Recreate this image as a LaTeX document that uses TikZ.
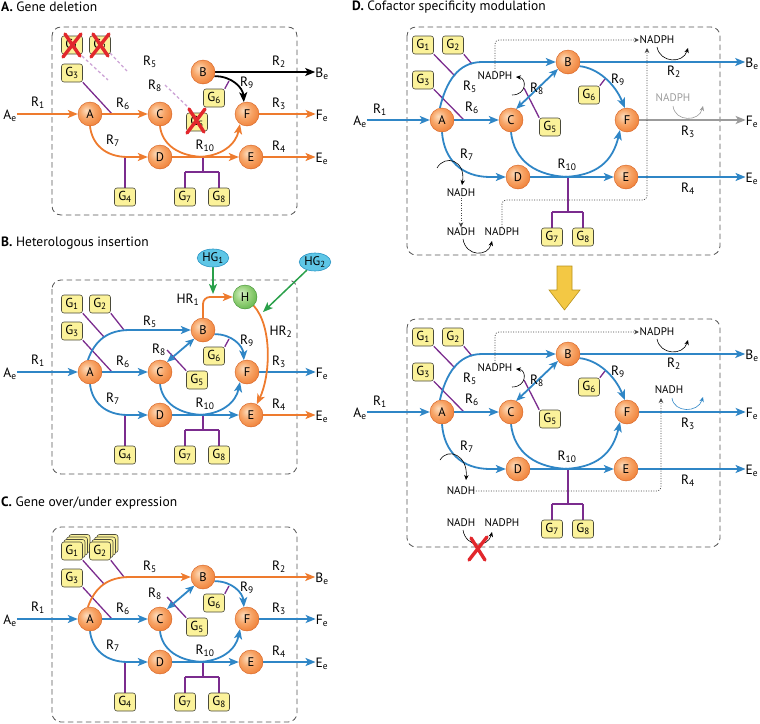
\documentclass[tikz,border=0pt]{standalone}
\usepackage{fontspec}
\setmainfont{PT Sans}
\usetikzlibrary{arrows.meta,shapes.geometric}
\definecolor{oflowc}{HTML}{EE7B2E}
\definecolor{bflowc}{HTML}{2F86C6}
\definecolor{purp}{HTML}{7B2C8E}
\definecolor{greyflow}{HTML}{9B9B9B}
\definecolor{grn}{HTML}{2AA04A}
\definecolor{pinkd}{HTML}{CDA4D6}
\definecolor{redx}{HTML}{E2272C}
\definecolor{genefill}{HTML}{FBF29A}
\definecolor{genedraw}{HTML}{4A4A3A}
\definecolor{mhi}{HTML}{FDDCBC}
\definecolor{mmid}{HTML}{F7A466}
\definecolor{mlow}{HTML}{EE7A30}
\definecolor{mdark}{HTML}{D45E1E}
\definecolor{ghi}{HTML}{D6F0C8}
\definecolor{gmid}{HTML}{9AD37E}
\definecolor{glow}{HTML}{5CB246}
\definecolor{gdark}{HTML}{3E8E30}
\definecolor{hgfill}{HTML}{5EC6E6}
\definecolor{hgdraw}{HTML}{2C95C4}
\definecolor{yarrowc}{HTML}{F3C844}
\definecolor{yarrowd}{HTML}{B8921C}
\definecolor{boxdash}{HTML}{555555}
\definecolor{dotc}{HTML}{444444}
\pgfdeclareradialshading{metball}{\pgfpoint{-8bp}{8bp}}{color(0bp)=(mhi); color(16bp)=(mmid); color(34bp)=(mlow); color(46bp)=(mdark); color(70bp)=(mdark)}
\pgfdeclareradialshading{hball}{\pgfpoint{-8bp}{8bp}}{color(0bp)=(ghi); color(16bp)=(gmid); color(34bp)=(glow); color(46bp)=(gdark); color(70bp)=(gdark)}
\pgfdeclarelayer{bg}
\pgfsetlayers{bg,main}
\tikzset{
  met/.style={circle, minimum size=24pt, inner sep=0pt, draw=mdark, line width=0.4pt, shading=metball, font=\fontsize{12.5}{12.5}\selectfont},
  hmet/.style={met, shading=hball, draw=gdark},
  gene/.style={rectangle, rounded corners=2.5pt, draw=genedraw, fill=genefill, line width=0.6pt, minimum width=21pt, minimum height=18pt, inner sep=0pt, font=\fontsize{13}{13}\selectfont},
  hg/.style={ellipse, draw=hgdraw, fill=hgfill, line width=0.6pt, minimum width=30pt, minimum height=18pt, inner sep=0.5pt, font=\fontsize{12.5}{12.5}\selectfont},
  lab/.style={inner sep=0pt, font=\fontsize{13.5}{13.5}\selectfont},
  cof/.style={inner sep=0.5pt, font=\fontsize{11}{11}\selectfont},
  ttl/.style={anchor=west, inner sep=0pt, font=\fontsize{13.5}{14}\selectfont},
  pbox/.style={draw=boxdash, dash pattern=on 5.5pt off 3.5pt, line width=0.8pt, rounded corners=9pt},
  fl/.style={line width=1.8pt, -{Stealth[length=10pt,width=8pt,inset=2.5pt]}},
  fln/.style={line width=1.8pt},
  fl2/.style={line width=1.8pt, {Stealth[length=9pt,width=7.5pt,inset=2.5pt]}-{Stealth[length=9pt,width=7.5pt,inset=2.5pt]}},
  gline/.style={purp, line width=1.3pt},
  ghostline/.style={pinkd, line width=1.3pt, dash pattern=on 3pt off 2.5pt},
  cofa/.style={line width=0.6pt, -{Stealth[length=5pt,width=4.5pt]}},
  dota/.style={dotc, line width=0.7pt, dash pattern=on 1pt off 1.5pt, rounded corners=4pt, -{Stealth[length=5pt,width=4.5pt]}},
  xmark/.style={redx, line width=3.4pt, line cap=round},
}
\newcommand\abcnodes[1]{%
 \node[met] (#1A) at (90,0) {A};
 \node[met] (#1B) at (203,-42) {B};
 \node[met] (#1C) at (160,0) {C};
 \node[met] (#1D) at (160,43) {D};
 \node[met] (#1E) at (251,43) {E};
 \node[met] (#1F) at (247,0) {F};
 \node[gene] (#1G3) at (72,-41) {G\textsubscript{3}};
 \node[gene] (#1G4) at (125,83) {G\textsubscript{4}};
 \node[gene] (#1G5) at (197,8) {G\textsubscript{5}};
 \node[gene] (#1G6) at (214,-16) {G\textsubscript{6}};
 \node[gene] (#1G7) at (185,83) {G\textsubscript{7}};
 \node[gene] (#1G8) at (219,83) {G\textsubscript{8}};
 \node[lab] (#1Ae) at (10,2) {A\textsubscript{e}};
 \node[lab] (#1Fe) at (322,2) {F\textsubscript{e}};
 \node[lab] (#1Ee) at (322,45) {E\textsubscript{e}};
 \node[lab] (#1R1) at (38,-11) {R\textsubscript{1}};
 \node[lab] (#1R3) at (279,-10) {R\textsubscript{3}};
 \node[lab] (#1R4) at (279,33) {R\textsubscript{4}};
 \node[lab] (#1R6) at (123,-10) {R\textsubscript{6}};
 \node[lab] (#1R7) at (113,27) {R\textsubscript{7}};
 \node[lab] (#1R9) at (247,-31) {R\textsubscript{9}};
 \node[lab] (#1R10) at (205,32) {R\textsubscript{10}};
}
\newcommand\abcgenelines[1]{%
 \draw[gline] (#1G3.south east) -- (112,0);
 \draw[gline] (#1G4.north) -- (125,43);
 \draw[gline] (#1G6.north east) -- (229,-33);
 \draw[gline] (203,43) -- (203,58) (185,58) -- (219,58) (185,58) -- (#1G7.north) (219,58) -- (#1G8.north);
}
\newcommand\dnodes[1]{%
 \node[met] (#1A) at (442,120) {A};
 \node[met] (#1B) at (568,62) {B};
 \node[met] (#1C) at (511,120) {C};
 \node[met] (#1D) at (518,177) {D};
 \node[met] (#1E) at (626,177) {E};
 \node[met] (#1F) at (627,120) {F};
 \node[gene] (#1G1) at (423,45) {G\textsubscript{1}};
 \node[gene] (#1G2) at (453,45) {G\textsubscript{2}};
 \node[gene] (#1G3) at (423,80) {G\textsubscript{3}};
 \node[gene] (#1G5) at (550,127) {G\textsubscript{5}};
 \node[gene] (#1G6) at (589,95) {G\textsubscript{6}};
 \node[gene] (#1G7) at (552,237) {G\textsubscript{7}};
 \node[gene] (#1G8) at (583,237) {G\textsubscript{8}};
 \node[lab] (#1Ae) at (360,122) {A\textsubscript{e}};
 \node[lab] (#1Be) at (752,64) {B\textsubscript{e}};
 \node[lab] (#1Fe) at (752,122) {F\textsubscript{e}};
 \node[lab] (#1Ee) at (752,179) {E\textsubscript{e}};
 \node[lab] (#1R1) at (380,110) {R\textsubscript{1}};
 \node[lab] (#1R5) at (470,87) {R\textsubscript{5}};
 \node[lab] (#1R6) at (472,108) {R\textsubscript{6}};
 \node[lab] (#1R8) at (537,89) {R\textsubscript{8}};
 \node[lab] (#1R7) at (467,155) {R\textsubscript{7}};
 \node[lab] (#1R10) at (567,165) {R\textsubscript{10}};
 \node[lab] (#1R9) at (618,80) {R\textsubscript{9}};
 \node[lab] (#1R2) at (674,72) {R\textsubscript{2}};
 \node[lab] (#1R3) at (688,132) {R\textsubscript{3}};
 \node[lab] (#1R4) at (688,189) {R\textsubscript{4}};
 \node[cof] (#1n1) at (495,76) {NADPH};
 \node[cof] (#1n2) at (657,40) {NADPH};
}
\newcommand\dedges[2]{%
 \draw[pbox] (407,27) rectangle (720,255);
 \draw[gline] (#1G1.south east) -- (455,76);
 \draw[gline] (#1G2.south east) -- (472,64);
 \draw[gline] (#1G3.south east) -- (464,120);
 \draw[gline] (#1G5.north west) -- (524,88);
 \draw[gline] (#1G6.north east) -- (605,79);
 \draw[gline] (568,177) -- (568,212) (552,212) -- (583,212) (552,212) -- (#1G7.north) (583,212) -- (#1G8.north);
 \draw[fl,bflowc] (#1Ae.east |- #1A) -- (#1A);
 \draw[fl,bflowc] (#1A.100) .. controls (446,82) and (458,62) .. (482,62) -- (#1B);
 \draw[fl,bflowc] (#1A) -- (#1C);
 \draw[fl,bflowc] (#1A.south) .. controls (444,160) and (462,177) .. (490,177) -- (#1D);
 \draw[fl2,bflowc] (#1B.215) -- (#1C.65);
 \draw[fl,bflowc] (#1B.-20) .. controls (598,68) and (615,84) .. (#1F.100);
 \draw[fln,bflowc] (#1C.south) .. controls (514,160) and (535,177) .. (572,177);
 \draw[fl,bflowc] (#1D) -- (#1E);
 \draw[fl,bflowc] (560,177) .. controls (598,177) and (613,160) .. (#1F.235);
 \draw[fl,bflowc] (#1B) -- (#1Be.west |- #1B);
 \draw[fl,#2] (#1F) -- (#1Fe.west |- #1F);
 \draw[fl,bflowc] (#1E) -- (#1Ee.west |- #1E);
 \draw[cofa] (512,95) .. controls (527,95) and (527,78) .. (516,77);
 \draw[dota] (#1n1.north) |- (#1n2.west);
 \draw[cofa] (657,47) .. controls (660,63) and (683,64) .. (688,48);
}
\begin{document}
\begin{tikzpicture}[x=1pt,y=-1pt]
\useasboundingbox (0,0) rectangle (760,723);
% titles
\node[ttl] (tA) at (1,7) {\textbf{A.}~Gene deletion};
\node[ttl] (tB) at (1,243) {\textbf{B.}~Heterologous insertion};
\node[ttl] (tC) at (1,503) {\textbf{C.}~Gene over/under expression};
\node[ttl] (tD) at (352,7) {\textbf{D.}~Cofactor specificity modulation};

% ---------------- Panel A
\begin{scope}[shift={(0,114)}]
\abcnodes{a}
\node[gene] (aG1) at (72,-69) {G\textsubscript{1}};
\node[gene] (aG2) at (100,-69) {G\textsubscript{2}};
\node[lab] (aBe) at (322,-40) {B\textsubscript{e}};
\node[lab] (aR5) at (150,-52) {R\textsubscript{5}};
\node[lab] (aR8) at (155,-28) {R\textsubscript{8}};
\node[lab] (aR2) at (279,-52) {R\textsubscript{2}};
\draw[xmark] (65,-80) -- (80,-58) (81,-80) -- (63,-57);
\draw[xmark] (93,-80) -- (108,-58) (109,-80) -- (91,-57);
\draw[xmark] (189,-5) -- (204,18) (205,-5) -- (187,19);
\begin{pgfonlayer}{bg}
 \draw[pbox] (52,-87) rectangle (297,101);
 \draw[ghostline] (82,-58) -- (108,-34);
 \draw[ghostline] (110,-61) -- (127,-43);
 \draw[ghostline] (165,-29) -- (190,-5);
 \abcgenelines{a}
 \draw[fl,oflowc] (aAe.east |- aA) -- (aA);
 \draw[fl,oflowc] (aA) -- (aC);
 \draw[fl,oflowc] (aA.south) .. controls (92,30) and (105,43) .. (128,43) -- (aD);
 \draw[fln,oflowc] (aC.south) .. controls (162,30) and (178,43) .. (206,43);
 \draw[fl,oflowc] (aD) -- (aE);
 \draw[fl,oflowc] (196,43) .. controls (222,43) and (236,30) .. (aF.235);
 \draw[fl,oflowc] (aF) -- (aFe.west |- aF);
 \draw[fl,oflowc] (aE) -- (aEe.west |- aE);
 \draw[fl,black] (aB) -- (aBe.west |- aB);
 \draw[fl,black] (aB.-20) .. controls (232,-38) and (243,-26) .. (aF.105);
\end{pgfonlayer}
\end{scope}

% ---------------- Panel B
\begin{scope}[shift={(0,372)}]
\abcnodes{b}
\node[gene] (bG1) at (72,-68) {G\textsubscript{1}};
\node[gene] (bG2) at (100,-68) {G\textsubscript{2}};
\node[lab] (bR5) at (150,-50) {R\textsubscript{5}};
\node[lab] (bR8) at (159,-22) {R\textsubscript{8}};
\node[hmet] (bH) at (245,-75) {H};
\node[hg] (bHG1) at (213,-114) {HG\textsubscript{1}};
\node[hg] (bHG2) at (315,-110) {HG\textsubscript{2}};
\node[lab] (bHR1) at (188,-72) {HR\textsubscript{1}};
\node[lab] (bHR2) at (281,-40) {HR\textsubscript{2}};
\begin{pgfonlayer}{bg}
 \draw[pbox] (52,-92) rectangle (297,102);
 \draw[gline] (bG1.south east) -- (104,-35);
 \draw[gline] (bG2.south east) -- (124,-42);
 \draw[gline] (bG5.north west) -- (167,-22);
 \abcgenelines{b}
 \draw[fl,bflowc] (bAe.east |- bA) -- (bA);
 \draw[fl,bflowc] (bA.100) .. controls (95,-32) and (108,-42) .. (130,-42) -- (bB);
 \draw[fl,bflowc] (bA) -- (bC);
 \draw[fl,bflowc] (bA.south) .. controls (92,30) and (105,43) .. (128,43) -- (bD);
 \draw[fl2,bflowc] (bB.225) -- (bC.55);
 \draw[fl,bflowc] (bB.-20) .. controls (232,-38) and (243,-26) .. (bF.105);
 \draw[fln,bflowc] (bC.south) .. controls (162,30) and (178,43) .. (206,43);
 \draw[fl,bflowc] (bD) -- (bE);
 \draw[fl,bflowc] (196,43) .. controls (222,43) and (236,30) .. (bF.235);
 \draw[fl,bflowc] (bF) -- (bFe.west |- bF);
 \draw[fl,oflowc] (bE) -- (bEe.west |- bE);
 \draw[fl,oflowc,rounded corners=7pt] (bB.north) |- (bH.west);
 \draw[fl,oflowc] (bH.-45) .. controls (273,-45) and (270,5) .. (bE.62);
 \draw[fl,grn,line width=1.5pt] (bHG1.south) -- (213,-78);
 \draw[fl,grn,line width=1.5pt] (bHG2.225) -- (263,-60);
\end{pgfonlayer}
\end{scope}

% ---------------- Panel C
\begin{scope}[shift={(0,619)}]
\abcnodes{c}
\node[gene] (cG1s3) at (79.5,-75.5) {};
\node[gene] (cG1s2) at (77,-73) {};
\node[gene] (cG1s1) at (74.5,-70.5) {};
\node[gene] (cG1) at (72,-68) {G\textsubscript{1}};
\node[gene] (cG2s3) at (107.5,-75.5) {};
\node[gene] (cG2s2) at (105,-73) {};
\node[gene] (cG2s1) at (102.5,-70.5) {};
\node[gene] (cG2) at (100,-68) {G\textsubscript{2}};
\node[lab] (cBe) at (322,-40) {B\textsubscript{e}};
\node[lab] (cR5) at (150,-52) {R\textsubscript{5}};
\node[lab] (cR8) at (155,-25) {R\textsubscript{8}};
\node[lab] (cR2) at (279,-52) {R\textsubscript{2}};
\begin{pgfonlayer}{bg}
 \draw[pbox] (52,-92) rectangle (297,103);
 \draw[gline] (cG1.south east) -- (104,-35);
 \draw[gline] (cG2.south east) -- (124,-42);
 \draw[gline] (cG5.north west) -- (167,-22);
 \abcgenelines{c}
 \draw[fl,bflowc] (cAe.east |- cA) -- (cA);
 \draw[fl,oflowc] (cA.100) .. controls (95,-32) and (108,-42) .. (130,-42) -- (cB);
 \draw[fl,bflowc] (cA) -- (cC);
 \draw[fl,bflowc] (cA.south) .. controls (92,30) and (105,43) .. (128,43) -- (cD);
 \draw[fl2,bflowc] (cB.225) -- (cC.55);
 \draw[fl,bflowc] (cB.-20) .. controls (232,-38) and (243,-26) .. (cF.105);
 \draw[fln,bflowc] (cC.south) .. controls (162,30) and (178,43) .. (206,43);
 \draw[fl,bflowc] (cD) -- (cE);
 \draw[fl,bflowc] (196,43) .. controls (222,43) and (236,30) .. (cF.235);
 \draw[fl,oflowc] (cB) -- (cBe.west |- cB);
 \draw[fl,bflowc] (cF) -- (cFe.west |- cF);
 \draw[fl,bflowc] (cE) -- (cEe.west |- cE);
\end{pgfonlayer}
\end{scope}

% ---------------- Panel D top
\dnodes{d}
\node[cof, text=greyflow] (dn3) at (673,98) {NADPH};
\node[cof] (dn4) at (461,193) {NADH};
\node[cof] (dn5) at (461,232) {NADH};
\node[cof] (dn6) at (502,232) {NADPH};
\begin{pgfonlayer}{bg}
 \dedges{d}{greyflow}
 \draw[cofa,greyflow] (673,106) .. controls (675,122) and (699,122) .. (703,106);
 \draw[cofa] (437,168) .. controls (445,154) and (466,160) .. (462,185);
 \draw[dota] (dn4.south) -- (dn5.north);
 \draw[cofa] (463,239) .. controls (466,257) and (488,257) .. (492,241);
 \draw[dota] (dn6.north) |- (647,200) -- (647,48);
\end{pgfonlayer}

% yellow arrow
\draw[fill=yarrowc, draw=yarrowd, line width=0.6pt] (557,266) -- (572,266) -- (572,290) -- (580,290) -- (564.5,310) -- (549,290) -- (557,290) -- cycle;

% ---------------- Panel D bottom
\begin{scope}[shift={(0,292)}]
\dnodes{e}
\node[cof] (en3) at (669,98) {NADH};
\node[cof] (en4) at (461,199) {NADH};
\node[cof] (en5) at (461,231) {NADH};
\node[cof] (en6) at (502,231) {NADPH};
\draw[xmark] (471,246) -- (485,268) (487,245) -- (469,268);
\begin{pgfonlayer}{bg}
 \dedges{e}{bflowc}
 \draw[cofa,bflowc] (672,106) .. controls (674,121) and (698,121) .. (703,105);
 \draw[cofa] (440,168) .. controls (448,155) and (468,163) .. (466,188);
 \draw[dota] (en4.east) -- (661,199) -- (661,106);
 \draw[cofa] (463,238) .. controls (466,256) and (488,256) .. (492,240);
\end{pgfonlayer}
\end{scope}
\end{tikzpicture}
\end{document}
